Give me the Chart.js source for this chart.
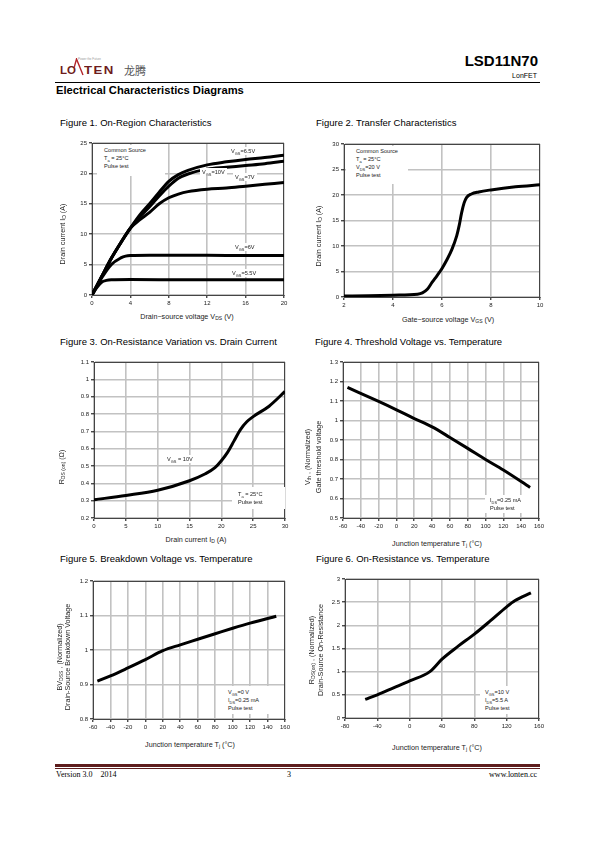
<!DOCTYPE html>
<html lang="en">
<head>
<meta charset="UTF-8">
<title>LSD11N70 Electrical Characteristics Diagrams</title>
<script src="https://cdn.jsdelivr.net/npm/chart.js"></script>
<style>
  body { margin: 0; background: #fff; font-family: "Liberation Sans", Arial, sans-serif; color: #000; }
  #page { position: relative; width: 595px; height: 842px; overflow: hidden; }
  .abs { position: absolute; white-space: nowrap; }
  .figtitle { font-size: 9.5px; line-height: 11px; }
  .axt { font-size: 7.2px; color: #222; transform: translate(-50%, -50%); }
  .axy { font-size: 7.2px; color: #222; transform: translate(-50%, -50%) rotate(-90deg); }
  sub { font-size: 70%; vertical-align: -1.5px; line-height: 0; }
  .note { background: #fff; font-size: 5.6px; line-height: 8px; color: #222; z-index: 2; box-sizing: border-box; }
  canvas { position: absolute; }
  .serif { font-family: "Liberation Serif", "DejaVu Serif", serif; font-size: 8px; color: #000; }
  .logo { font-size: 11.5px; font-weight: bold; color: #6e1c1c; }
</style>
</head>
<body>
<div id="page">
  <!-- header -->
  <div class="abs logo" style="left:60px;top:64px">LO</div>
  <svg class="abs" style="left:74px;top:58px" width="12" height="20">
    <polyline points="0,10 2.5,1 9,17" fill="none" stroke="#b3262b" stroke-width="1.4"/>
  </svg>
  <div class="abs logo" style="left:84px;top:64px;letter-spacing:1.2px;transform:scaleX(1.15);transform-origin:left">TEN</div>
  <div class="abs" style="left:78px;top:57px;font-size:3px;color:#999">Power the Future</div>
  <div class="abs" style="left:124px;top:62px;font-size:11px;color:#555;font-family:'Noto Sans CJK SC',sans-serif">龙腾</div>
  <div class="abs" style="right:57px;top:52px;font-size:15px;font-weight:bold">LSD11N70</div>
  <div class="abs" style="right:58px;top:72px;font-size:7px;color:#000">LonFET</div>
  <div class="abs" style="left:55px;top:82px;width:485px;border-top:1px solid #000"></div>
  <div class="abs" style="left:56px;top:84px;font-size:11.2px;font-weight:bold">Electrical Characteristics Diagrams</div>

  <!-- figure titles -->
  <div class="abs figtitle" style="left:60px;top:117px">Figure 1. On-Region Characteristics</div>
  <div class="abs figtitle" style="left:316px;top:117px">Figure 2. Transfer Characteristics</div>
  <div class="abs figtitle" style="left:60px;top:336px">Figure 3. On-Resistance Variation vs. Drain Current</div>
  <div class="abs figtitle" style="left:315px;top:336px">Figure 4. Threshold Voltage vs. Temperature</div>
  <div class="abs figtitle" style="left:60px;top:553px">Figure 5. Breakdown Voltage vs. Temperature</div>
  <div class="abs figtitle" style="left:316px;top:553px">Figure 6. On-Resistance vs. Temperature</div>

  <canvas id="c1"></canvas>
  <canvas id="c2"></canvas>
  <canvas id="c3"></canvas>
  <canvas id="c4"></canvas>
  <canvas id="c5"></canvas>
  <canvas id="c6"></canvas>

  <!-- axis titles -->
  <div class="abs axy" style="left:62px;top:234px">Drain current I<sub>D</sub> (A)</div>
  <div class="abs axt" style="left:187px;top:316px">Drain−source voltage V<sub>DS</sub> (V)</div>
  <div class="abs axy" style="left:318px;top:236px">Drain current I<sub>D</sub> (A)</div>
  <div class="abs axt" style="left:448px;top:319px">Gate−source voltage V<sub>GS</sub> (V)</div>
  <div class="abs axy" style="left:61px;top:467px">R<sub>DS (on)</sub> (Ω)</div>
  <div class="abs axt" style="left:196px;top:539px">Drain current I<sub>D</sub> (A)</div>
  <div class="abs axy" style="left:307px;top:457px">V<sub>th</sub> , (Normalized)</div>
  <div class="abs axy" style="left:318px;top:457px">Gate threshold voltage</div>
  <div class="abs axt" style="left:437px;top:543px">Junction temperature T<sub>j</sub> (°C)</div>
  <div class="abs axy" style="left:59px;top:657px">BV<sub>DSS</sub> , (Normalized)</div>
  <div class="abs axy" style="left:67px;top:657px">Drain-Source Breakdown Voltage</div>
  <div class="abs axt" style="left:190px;top:744px">Junction temperature T<sub>j</sub> (°C)</div>
  <div class="abs axy" style="left:311px;top:650px">R<sub>DS(on)</sub> , (Normalized)</div>
  <div class="abs axy" style="left:320px;top:650px">Drain-Source On-Resistance</div>
  <div class="abs axt" style="left:437px;top:747px">Junction temperature T<sub>j</sub> (°C)</div>

  <!-- notes -->
  <div class="abs note" style="left:97px;top:145px;width:68px;height:31px;padding:1px 0 0 7px">Common Source<br>T<sub>a</sub> = 25°C<br>Pulse test</div>
  <div class="abs note" style="left:229px;top:147px;padding:0 2px">V<sub>GS</sub>=6.5V</div>
  <div class="abs note" style="left:200px;top:168px;padding:0 2px">V<sub>GS</sub>=10V</div>
  <div class="abs note" style="left:233px;top:173px;padding:0 2px">V<sub>GS</sub>=7V</div>
  <div class="abs note" style="left:233px;top:243px;padding:0 2px">V<sub>GS</sub>=6V</div>
  <div class="abs note" style="left:230px;top:269px;padding:0 2px">V<sub>GS</sub>=5.5V</div>

  <div class="abs note" style="left:346px;top:146px;width:62px;height:38px;padding:1px 0 0 10px">Common Source<br>T<sub>a</sub> = 25°C<br>V<sub>DS</sub>=20 V<br>Pulse test</div>

  <div class="abs note" style="left:163px;top:455px;padding:0 4px">V<sub>GS</sub> = 10V</div>
  <div class="abs note" style="left:232px;top:487px;width:53px;height:22px;padding:3px 0 0 6px">T<sub>a</sub> = 25°C<br>Pulse test</div>

  <div class="abs note" style="left:485px;top:495px;width:53px;height:18px;padding:1px 0 0 5px">I<sub>DS</sub>=0.25 mA<br>Pulse test</div>
  <div class="abs note" style="left:222px;top:686px;width:62px;height:28px;padding:2px 0 0 6px">V<sub>GS</sub>=0 V<br>I<sub>DS</sub>=0.25 mA<br>Pulse test</div>
  <div class="abs note" style="left:480px;top:686px;width:58px;height:28px;padding:2px 0 0 5px">V<sub>GS</sub>=10 V<br>I<sub>DS</sub>=5.5 A<br>Pulse test</div>

  <!-- footer -->
  <div class="abs" style="left:55px;top:764px;width:485px;height:3px;background:#5e1d1d"></div>
  <div class="abs" style="left:55px;top:768px;width:485px;height:1px;background:#5e1d1d"></div>
  <div class="abs serif" style="left:56px;top:770px">Version 3.0&nbsp;&nbsp;&nbsp;&nbsp;2014</div>
  <div class="abs serif" style="left:287px;top:770px">3</div>
  <div class="abs serif" style="right:58px;top:770px">www.lonten.cc</div>
</div>

<script>
  // Figure 1: I_D vs V_DS for several V_GS
  const f1_vds = [0, 1, 2, 3, 4, 5, 6, 7, 8, 9, 10, 12, 14, 16, 18, 20];
  const f1_id65 = [0, 3, 6, 8.6, 11, 13.2, 15, 16.9, 18.7, 19.8, 20.5, 21.4, 21.9, 22.3, 22.6, 23.0];
  const f1_id10 = [0, 3, 6, 8.6, 11, 12.9, 14.5, 16.3, 17.9, 19.2, 19.9, 20.7, 21.0, 21.3, 21.6, 22.0];
  const f1_id7 = [0, 3, 6, 8.6, 11, 12.4, 13.6, 15.0, 16.0, 16.6, 17.0, 17.4, 17.6, 17.9, 18.2, 18.5];
  const f1_vds6 = [0, 1, 2, 3, 3.5, 4, 6, 10, 14, 20];
  const f1_id6 = [0, 2.8, 5.0, 6.1, 6.4, 6.5, 6.55, 6.55, 6.5, 6.5];
  const f1_vds55 = [0, 0.5, 1, 1.5, 2, 4, 10, 20];
  const f1_id55 = [0, 1.2, 2.1, 2.4, 2.5, 2.55, 2.5, 2.5];

  // Figure 2: transfer
  const f2_vgs = [2, 3, 4, 5, 5.2, 5.4, 5.6, 5.8, 6, 6.2, 6.4, 6.6, 6.7, 6.8, 6.9, 7, 7.2, 7.5, 8, 9, 10];
  const f2_id = [0.2, 0.25, 0.35, 0.55, 0.8, 1.5, 2.9, 4.2, 5.6, 7.3, 9.3, 12.0, 14.0, 16.5, 18.4, 19.5, 20.2, 20.6, 21.0, 21.6, 22.0];

  // Figure 3: R_DS(on) vs I_D
  const f3_id = [0, 5, 10, 15, 17.5, 19, 20, 21, 22, 23, 24, 25, 27.5, 30];
  const f3_r = [0.305, 0.33, 0.36, 0.415, 0.455, 0.49, 0.53, 0.58, 0.645, 0.71, 0.755, 0.785, 0.845, 0.93];

  // Figure 4: V_th vs T_j
  const f4_t = [-55, -20, 0, 20, 40, 60, 80, 100, 120, 150];
  const f4_v = [1.17, 1.098, 1.055, 1.01, 0.967, 0.913, 0.857, 0.80, 0.746, 0.657];

  // Figure 5: BV_DSS vs T_j
  const f5_t = [-55, -40, -20, 0, 20, 40, 60, 80, 100, 120, 150];
  const f5_bv = [0.91, 0.925, 0.948, 0.972, 0.998, 1.015, 1.031, 1.047, 1.063, 1.078, 1.098];

  // Figure 6: R_DS(on) vs T_j
  const f6_t = [-55, -40, -20, 0, 25, 40, 60, 80, 100, 120, 130, 150];
  const f6_r = [0.4, 0.5, 0.65, 0.8, 1.0, 1.27, 1.55, 1.81, 2.1, 2.4, 2.53, 2.7];

  const frame = {
    id: 'frame',
    beforeDatasetsDraw(chart) {
      const a = chart.chartArea, ctx = chart.ctx;
      ctx.save();
      ctx.strokeStyle = '#444';
      ctx.lineWidth = 1;
      ctx.strokeRect(a.left + 0.5, a.top + 0.5, a.right - a.left - 1, a.bottom - a.top);
      ctx.restore();
    }
  };

  function axis(min, max, step, fit) {
    return {
      type: 'linear', min: min, max: max,
      ticks: { stepSize: step, color: '#222', font: { size: 6, family: 'Liberation Sans' }, padding: 2, maxRotation: 0, autoSkip: false, callback: v => +v.toFixed(2) },
      grid: { color: '#c2c2c2', lineWidth: 1.6, tickLength: 3, tickColor: '#000', tickWidth: 1 },
      border: { display: true, color: '#000', width: 1 },
      afterFit: fit
    };
  }

  function line(xs, ys) {
    return {
      data: xs.map((x, i) => ({ x: x, y: ys[i] })),
      borderColor: '#000', borderWidth: 3, pointRadius: 0,
      showLine: true, fill: false, cubicInterpolationMode: 'monotone'
    };
  }

  function makeChart(id, box, datasets, xa, ya) {
    const cv = document.getElementById(id);
    const padL = 32, padT = 6, padR = 8, padB = 16;
    cv.width = box.r - box.l + padL + padR;
    cv.height = box.b - box.t + padT + padB;
    cv.style.left = (box.l - padL) + 'px';
    cv.style.top = (box.t - padT) + 'px';
    new Chart(cv, {
      type: 'scatter',
      data: { datasets: datasets },
      options: {
        responsive: false, animation: false, devicePixelRatio: 1,
        layout: { padding: { left: 0, top: padT, right: padR, bottom: 0 } },
        plugins: { legend: { display: false }, tooltip: { enabled: false } },
        scales: {
          x: axis(xa[0], xa[1], xa[2], s => { s.height = padB; }),
          y: axis(ya[0], ya[1], ya[2], s => { s.width = padL; })
        }
      },
      plugins: [frame]
    });
  }

  makeChart('c1', { l: 92, t: 143, r: 284, b: 295 }, [
    line(f1_vds, f1_id65), line(f1_vds, f1_id10), line(f1_vds, f1_id7),
    line(f1_vds6, f1_id6), line(f1_vds55, f1_id55)
  ], [0, 20, 4], [0, 25, 5]);

  makeChart('c2', { l: 344, t: 144, r: 540, b: 297 }, [line(f2_vgs, f2_id)], [2, 10, 2], [0, 30, 5]);
  makeChart('c3', { l: 94, t: 362, r: 285, b: 518 }, [line(f3_id, f3_r)], [0, 30, 5], [0.2, 1.1, 0.1]);
  makeChart('c4', { l: 343, t: 362, r: 539, b: 518 }, [line(f4_t, f4_v)], [-60, 160, 20], [0.5, 1.3, 0.1]);
  makeChart('c5', { l: 93, t: 581, r: 285, b: 719 }, [line(f5_t, f5_bv)], [-60, 160, 20], [0.8, 1.2, 0.1]);
  makeChart('c6', { l: 345, t: 579, r: 539, b: 718 }, [line(f6_t, f6_r)], [-80, 160, 40], [0, 3, 0.5]);
</script>
</body>
</html>
